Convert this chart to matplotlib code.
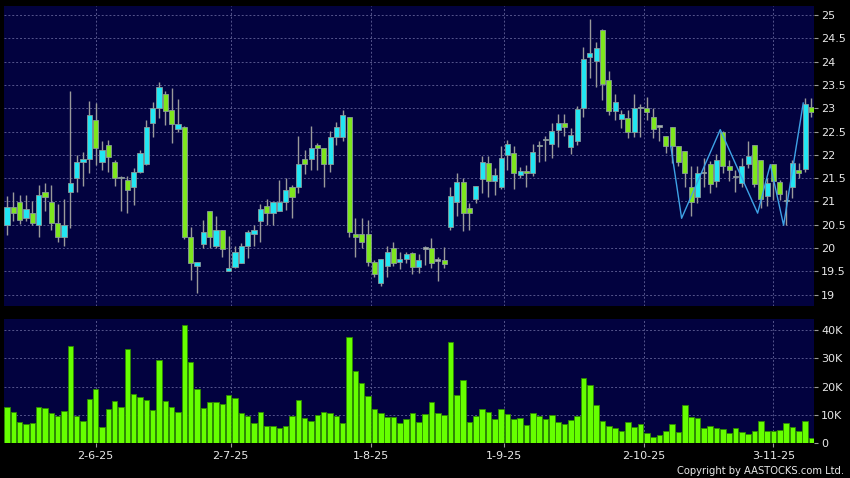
import matplotlib
matplotlib.use('Agg')
import matplotlib.pyplot as plt
import numpy as np

# ---------------- data ----------------
opens = [20.50, 20.89, 20.98, 20.64, 20.75, 20.50, 21.20, 20.99, 20.54, 20.24,
         21.20, 21.50, 21.84, 21.91, 22.75, 21.84, 22.21, 21.84, 21.50, 21.46,
         21.30, 21.64, 21.80, 22.69, 23.00, 23.30, 22.96, 22.55, 22.59, 20.24,
         19.61, 20.09, 20.79, 20.04, 20.39, 19.50, 19.59, 19.68, 20.04, 20.31,
         20.59, 20.91, 20.75, 20.79, 20.98, 21.31, 21.30, 21.91, 21.91, 22.21,
         22.14, 21.81, 22.39, 22.39, 22.81, 20.31, 20.31, 20.31, 19.70, 19.26,
         19.61, 20.00, 19.70, 19.76, 19.89, 19.59, 19.99, 20.00, 19.73, 19.75,
         20.46, 20.98, 21.41, 20.86, 21.05, 21.48, 21.82, 21.43, 21.31, 22.00,
         22.04, 21.56, 21.66, 21.62, 22.19, 22.31, 22.23, 22.54, 22.68, 22.17,
         22.29, 23.00, 24.09, 24.02, 24.68, 23.61, 22.94, 22.77, 22.79, 22.49,
         23.00, 23.00, 22.81, 22.60, 22.41, 22.59, 22.19, 22.09, 21.30, 21.09,
         21.61, 21.80, 21.43, 22.50, 21.76, 21.52, 21.39, 21.80, 22.21, 21.88,
         21.11, 21.80, 21.41, 21.01, 21.32, 21.68, 21.69, 23.02]
highs = [21.11, 21.20, 21.14, 21.14, 21.00, 21.36, 21.39, 21.36, 20.95, 21.05,
         23.36, 22.00, 22.07, 23.16, 23.12, 22.29, 22.32, 21.89, 21.55, 21.55,
         21.71, 22.11, 22.75, 23.14, 23.57, 23.36, 23.43, 23.19, 22.61, 20.45,
         19.70, 20.61, 20.79, 20.69, 20.39, 20.25, 20.04, 20.11, 20.39, 20.50,
         20.95, 21.05, 20.98, 21.46, 21.50, 21.36, 22.41, 22.11, 22.61, 22.26,
         22.14, 22.52, 22.71, 22.96, 22.81, 20.64, 20.64, 20.61, 19.75, 19.76,
         20.04, 20.14, 19.91, 19.91, 19.91, 19.88, 20.04, 20.21, 19.82, 20.02,
         21.32, 21.61, 21.50, 20.96, 21.34, 21.98, 21.98, 21.71, 22.19, 22.32,
         22.20, 21.74, 21.79, 22.24, 22.29, 22.41, 22.68, 22.88, 22.88, 22.57,
         23.05, 24.32, 24.91, 24.41, 24.69, 23.79, 23.31, 22.96, 22.96, 23.31,
         23.09, 23.24, 23.00, 22.61, 22.41, 22.59, 22.19, 22.09, 21.75, 21.75,
         21.93, 21.86, 22.02, 22.52, 21.89, 21.68, 21.93, 22.29, 22.21, 21.88,
         21.50, 21.80, 21.46, 21.25, 21.89, 21.82, 23.21, 23.21]
lows = [20.29, 20.59, 20.52, 20.59, 20.49, 20.24, 20.79, 20.38, 20.14, 20.04,
        20.44, 21.20, 21.34, 21.61, 21.79, 21.68, 21.64, 21.34, 20.79, 20.75,
        20.93, 21.61, 21.79, 22.39, 22.79, 22.64, 22.25, 22.50, 20.19, 19.32,
        19.04, 20.00, 20.00, 20.00, 19.82, 19.50, 19.57, 19.68, 19.79, 20.04,
        20.14, 20.49, 20.49, 20.79, 20.82, 20.64, 21.19, 21.59, 21.68, 21.68,
        21.30, 21.64, 22.21, 22.29, 20.24, 19.81, 20.00, 19.61, 19.38, 19.19,
        19.39, 19.61, 19.55, 19.69, 19.44, 19.46, 19.64, 19.57, 19.29, 19.57,
        20.38, 20.68, 20.36, 20.39, 20.96, 21.19, 21.09, 21.13, 21.26, 21.68,
        21.27, 21.50, 21.30, 21.54, 21.84, 21.86, 21.93, 22.16, 22.41, 22.02,
        22.21, 22.81, 23.64, 23.46, 23.18, 22.86, 22.74, 22.57, 22.36, 22.39,
        22.39, 22.74, 22.36, 22.29, 22.05, 21.82, 21.75, 21.30, 20.68, 20.96,
        21.31, 21.18, 21.32, 21.61, 21.43, 21.21, 21.32, 21.71, 21.32, 20.86,
        20.91, 21.04, 21.04, 20.50, 21.07, 21.50, 21.64, 22.81]
closes = [20.89, 20.75, 20.60, 20.83, 20.54, 21.14, 21.09, 20.54, 20.24, 20.49,
          21.39, 21.84, 21.91, 22.86, 22.14, 22.11, 21.95, 21.50, 21.50, 21.24,
          21.64, 22.05, 22.59, 23.00, 23.45, 22.95, 22.66, 22.66, 20.24, 19.68,
          19.70, 20.34, 20.24, 20.39, 19.98, 19.57, 19.91, 20.04, 20.34, 20.38,
          20.84, 20.75, 20.98, 20.98, 21.25, 21.09, 21.81, 21.81, 22.14, 22.14,
          21.81, 22.39, 22.59, 22.86, 20.34, 20.24, 20.14, 19.70, 19.44, 19.76,
          19.91, 19.68, 19.76, 19.87, 19.59, 19.74, 19.99, 19.68, 19.73, 19.66,
          21.11, 21.41, 20.75, 20.75, 21.34, 21.84, 21.43, 21.56, 21.93, 22.23,
          21.61, 21.66, 21.61, 22.07, 22.19, 22.31, 22.52, 22.68, 22.59, 22.42,
          22.98, 24.05, 24.18, 24.29, 23.52, 22.95, 23.13, 22.87, 22.49, 23.00,
          23.00, 22.91, 22.55, 22.60, 22.19, 22.19, 21.84, 21.61, 20.99, 21.62,
          21.61, 21.37, 21.88, 21.76, 21.68, 21.52, 21.75, 21.98, 21.38, 21.05,
          21.39, 21.43, 21.16, 21.01, 21.82, 21.61, 23.09, 22.91]
volumes = [12900, 11100, 7300, 6800, 7200, 12600, 12400, 10500, 9400, 11300,
           34200, 9400, 7800, 15600, 19100, 5800, 12000, 14900, 12600, 33400,
           17200, 16200, 15100, 11700, 29400, 14800, 12900, 11000, 41800, 28600,
           19200, 12300, 14400, 14500, 13800, 16900, 16000, 10500, 9600, 7000,
           11100, 6000, 5900, 5400, 6000, 9600, 15100, 9000, 7900, 9800,
           10900, 10600, 9700, 7000, 37500, 25600, 21100, 16600, 11900, 10600,
           9100, 9300, 7000, 8500, 10600, 7300, 10100, 14400, 10500, 9900,
           35900, 17000, 22200, 7400, 9600, 11900, 10900, 8400, 12000, 10300,
           8500, 9000, 6300, 10700, 9600, 8400, 9800, 7600, 6700, 8100,
           9600, 23000, 20500, 13300, 7900, 6000, 5300, 4400, 7400, 5500,
           6600, 3400, 2100, 2800, 4100, 6800, 4000, 13300, 9200, 9000,
           5300, 6100, 5300, 5100, 3400, 5200, 3900, 3300, 4400, 7700,
           4400, 4100, 4700, 7000, 5800, 4400, 7900, 1700]

# zig-zag overlay line (bar index, price)
zz_idx = [104.8, 106.5, 112.6, 118.5, 120.5, 122.6, 125.7]
zz_price = [22.18, 20.64, 22.54, 20.75, 21.79, 20.49, 23.11]

# x-axis ticks (bar index of gridline) and labels
xtick_pos = [14.0, 35.3, 57.4, 78.5, 100.6, 121.0]
xtick_labels = ['2-6-25', '2-7-25', '1-8-25', '1-9-25', '2-10-25', '3-11-25']
price_ticks = [19, 19.5, 20, 20.5, 21, 21.5, 22, 22.5, 23, 23.5, 24, 24.5, 25]
vol_ticks = [0, 10000, 20000, 30000, 40000]
vol_tick_labels = ['0', '10K', '20K', '30K', '40K']

# ---------------- styling ----------------
BG = '#02023f'
GRID = '#55558c'
UP = '#22e6f2'
DOWN = '#7ee61e'
FLAT = '#b0b0b0'
WICK = '#9a9a9a'
TXT = '#e8e8e8'

W, H = 850, 478
fig = plt.figure(figsize=(W / 100, H / 100), dpi=100, facecolor='black')
ax1 = fig.add_axes([4 / W, 1 - 306 / H, 810 / W, 300 / H])
ax2 = fig.add_axes([4 / W, 1 - 443 / H, 810 / W, 124 / H])

o = np.array(opens); h = np.array(highs); l = np.array(lows); c = np.array(closes)
x = np.arange(len(o))
colors = [UP if cc > oo else (DOWN if cc < oo else FLAT) for oo, cc in zip(o, c)]
bottoms = np.minimum(o, c)
heights = np.maximum(np.abs(c - o), 0.03)

for ax in (ax1, ax2):
    ax.set_facecolor(BG)
    for s in ax.spines.values():
        s.set_visible(False)
    ax.set_xlim(-0.47, 127.4)
    ax.set_xticks(xtick_pos)
    ax.grid(True, color=GRID, linestyle=(0, (2, 2)), linewidth=0.7)
    ax.set_axisbelow(True)
    ax.yaxis.tick_right()
    ax.tick_params(axis='y', colors='#9a9a9a', labelcolor=TXT, labelsize=8,
                   length=3, width=0.8, pad=2)

ax1.vlines(x, l, h, color=WICK, linewidth=1, zorder=2)
ax1.bar(x, heights, bottom=bottoms, width=0.8, color=colors,
        edgecolor='#8a9a9a', linewidth=0.6, zorder=3)
ax1.plot(zz_idx, zz_price, color='#3ea2e6', linewidth=1, zorder=4)
ax1.set_ylim(18.76, 25.19)
ax1.set_yticks(price_ticks)
ax1.set_yticklabels(['%g' % t for t in price_ticks])
ax1.tick_params(axis='x', length=0, labelbottom=False)

ax2.bar(x, volumes, width=0.88, color='#66ff00', edgecolor='#2e8a00',
        linewidth=0.6, zorder=3)
ax2.set_ylim(0, 43900)
ax2.set_yticks(vol_ticks)
ax2.set_yticklabels(vol_tick_labels)
ax2.set_xticklabels(xtick_labels)
ax2.tick_params(axis='x', colors='#9a9a9a', labelcolor=TXT, labelsize=8,
                length=3, width=0.8, pad=3)

fig.text(844 / W, 1 - 471 / H, 'Copyright by AASTOCKS.com Ltd.', ha='right',
         va='center', color=TXT, fontsize=7.2)

fig.savefig('out.png', dpi=100, facecolor='black')
